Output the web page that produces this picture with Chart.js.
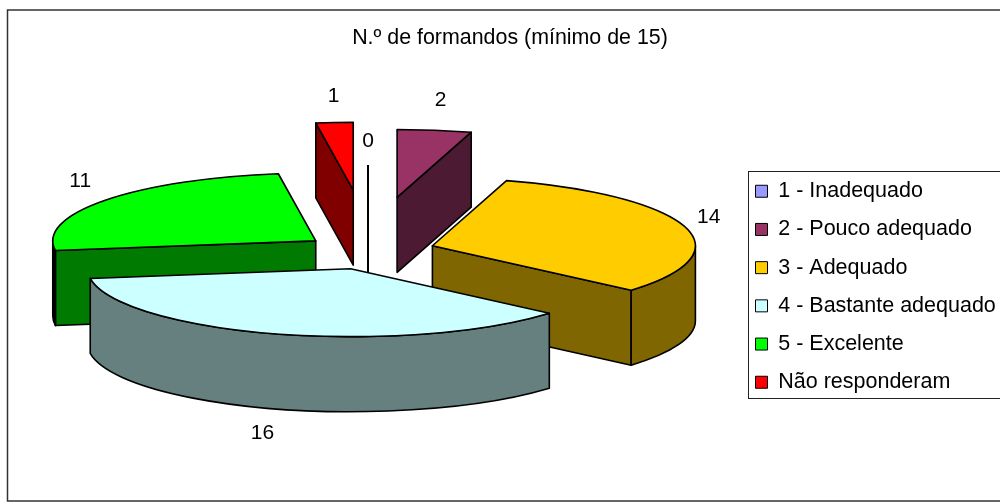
<!DOCTYPE html>
<html><head><meta charset="utf-8">
<style>html,body{margin:0;padding:0;background:#fff}canvas{display:block}</style>
<script src="https://cdn.jsdelivr.net/npm/chart.js@4"></script>
</head><body><canvas id="c" width="1000" height="502"></canvas>
<script>
const titleText = 'N.º de formandos (mínimo de 15)';
const categories = ['1 - Inadequado','2 - Pouco adequado','3 - Adequado','4 - Bastante adequado','5 - Excelente','Não responderam'];
const values = [0,2,14,16,11,1];
const topColors = ['#9999FF','#993366','#FFCC00','#CCFFFF','#00FF00','#FF0000'];
const wallColors = ['#4D4D80','#4D1A33','#806600','#668080','#007A00','#800000'];
const arcWallColors = ['#4D4D80','#4D1A33','#806600','#668080','#000000','#800000'];
const explode = [78,222,64,69,69,249];
const nudgeX = [-3,-5.5,0,-1,0,0];
const nudgeY = [0,0,-2,0,-1,0];
const labelDX = [0,6,24,-14,-25,-1];
const labelDY = [-26,-32,-10,101,-20,-28];
const paintOrder = [5,1,0,4,2,3];
const SQUASH = 0.25, RIM = 0.258, DEPTH = 75, RADIUS = 263, FONT = 'Liberation Sans, Arial, sans-serif', FS = 21;

const pie3d = {
  id:'pie3d',
  beforeDraw(chart){
    const c = chart.ctx;
    c.save();
    c.fillStyle='#fff'; c.fillRect(0,0,1000,502);
    c.strokeStyle='#333'; c.lineWidth=1.5;
    c.strokeRect(7.5,10,1100,491);
    c.strokeStyle='#222'; c.lineWidth=1;
    c.strokeRect(748.5,171.5,400,227);
    c.restore();
    const t = chart.titleBlock;
    t.left=20; t.right=1000; t.top=25.4; t.bottom=t.top+t.height;
    const l = chart.legend;
    const w=l.width,h=l.height;
    l.left=738.8; l.right=738.8+w; l.top=163.8; l.bottom=163.8+h;
  },
  beforeDatasetsDraw(chart){
    const c = chart.ctx, meta = chart.getDatasetMeta(0);
    paintOrder.forEach(i=>{
      const el = meta.data[i];
      const {x:cx,y:cy,startAngle:a0,endAngle:a1,outerRadius:r} = el;
      const mid=(a0+a1)/2, d=el.options.offset/4;
      const ax=cx+Math.cos(mid)*d+nudgeX[i], ay=cy+Math.sin(mid)*d*SQUASH+nudgeY[i];
      const px=a=>ax+r*Math.cos(a), py=a=>ay+r*RIM*Math.sin(a);
      c.save();
      c.lineWidth=1.6; c.strokeStyle='#000'; c.lineJoin='round';
      const radial=a=>{
        c.beginPath(); c.moveTo(ax,ay); c.lineTo(px(a),py(a));
        c.lineTo(px(a),py(a)+DEPTH); c.lineTo(ax,ay+DEPTH); c.closePath();
        c.fillStyle=wallColors[i]; c.fill(); c.stroke();
      };
      if(a1-a0<1e-6){
        c.beginPath(); c.moveTo(px(a0),py(a0)); c.lineTo(ax,ay+DEPTH); c.lineWidth=2; c.stroke();
        c.restore(); return;
      }
      if(Math.cos(a0)<0) radial(a0);
      if(Math.cos(a1)>0) radial(a1);
      const fa=Math.max(a0,0), fb=Math.min(a1,Math.PI);
      if(fb>fa){
        c.beginPath(); c.ellipse(ax,ay,r,r*RIM,0,fa,fb);
        c.ellipse(ax,ay+DEPTH,r,r*RIM,0,fb,fa,true); c.closePath();
        c.fillStyle=arcWallColors[i]; c.fill(); c.stroke();
      }
      c.beginPath(); c.moveTo(ax,ay); c.ellipse(ax,ay,r,r*RIM,0,a0,a1); c.closePath();
      c.fillStyle=el.options.backgroundColor; c.fill(); c.stroke();
      c.restore();
    });
    c.save();
    c.fillStyle='#000'; c.font=FS+'px '+FONT; c.textAlign='center'; c.textBaseline='middle';
    values.forEach((v,i)=>{
      const el=meta.data[i], mid=(el.startAngle+el.endAngle)/2, d=el.options.offset/4, r=el.outerRadius;
      const ox=el.x+Math.cos(mid)*(d+r)+nudgeX[i]+labelDX[i];
      const oy=el.y+Math.sin(mid)*(d+r)*SQUASH+nudgeY[i]+labelDY[i];
      c.fillText(String(v),ox,oy);
    });
    c.restore();
    return false;
  }
};

new Chart(document.getElementById('c'),{
  type:'pie',
  data:{labels:categories,datasets:[{
    data:values, backgroundColor:topColors, borderWidth:0,
    offset:explode.map(d=>d*4)
  }]},
  plugins:[pie3d],
  options:{
    responsive:false, animation:false, rotation:0, cutout:'0%', radius:RADIUS,
    layout:{padding:{left:0,right:258,top:0,bottom:23.2}},
    plugins:{
      tooltip:{enabled:false},
      title:{display:true,text:titleText,color:'#000',padding:0,font:{family:FONT,size:21.4,weight:'normal'}},
      legend:{position:'chartArea',align:'start',
        labels:{color:'#000',boxWidth:12,boxHeight:12,padding:16.7,font:{family:FONT,size:21.5},
          generateLabels(ch){
            return Chart.overrides.doughnut.plugins.legend.labels.generateLabels(ch)
              .map(it=>Object.assign(it,{strokeStyle:'#000',lineWidth:1}));
          }}}
    }
  }
});
</script></body></html>
